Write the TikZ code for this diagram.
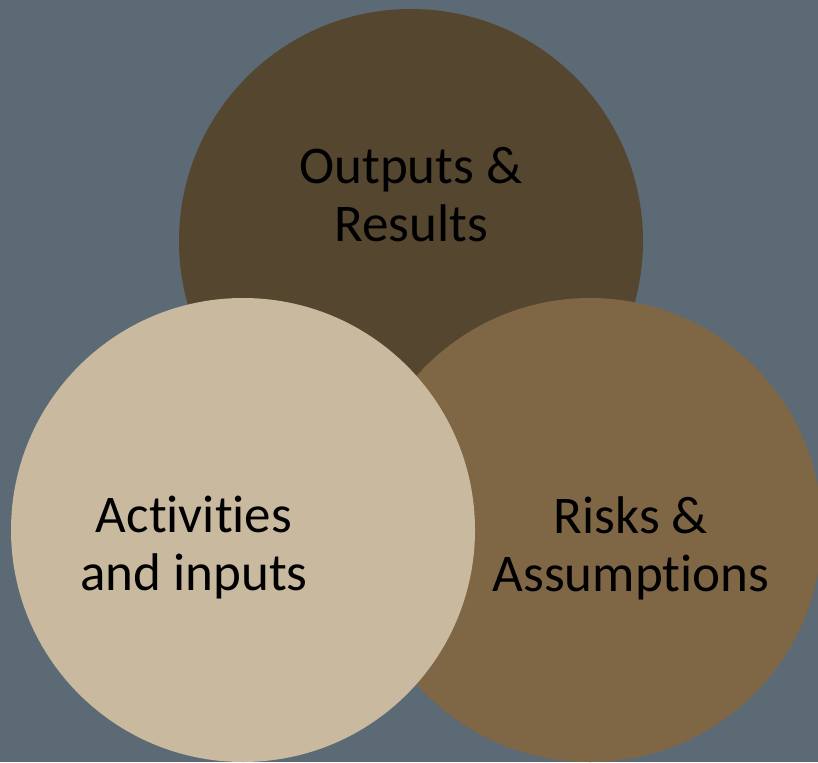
\documentclass[tikz,border=0pt]{standalone}
\usepackage{fontspec}
\setmainfont{Carlito}[Ligatures={NoCommon}]
\definecolor{bg}{HTML}{5B6A75}
\definecolor{topc}{HTML}{54462F}
\definecolor{rightc}{HTML}{7F6745}
\definecolor{leftc}{HTML}{C9B99E}
\tikzset{
  circ/.style={circle, minimum size=464pt, inner sep=0pt, draw=none},
  lbl/.style={align=center, font=\fontsize{53}{58}\selectfont, text=black, inner sep=0pt}
}
\begin{document}
\begin{tikzpicture}[x=1pt,y=1pt]
\path[fill=bg] (0,0) rectangle (818,-762);
\useasboundingbox (0,0) rectangle (818,-762);
\begin{scope}
\clip (0,0) rectangle (818,-762);
\node[circ, fill=topc] (top) at (411,-241) {};
\node[circ, fill=rightc] (right) at (590,-530) {};
\node[circ, fill=leftc] (left) at (243,-530) {};
\end{scope}
\node[lbl] (tt) at (411,-195) {Outputs \&\\Results};
\node[lbl] (lt) at (194,-548) {Activities\\and inputs};
\node[lbl] (rt) at (631,-548) {Risks \&\\Assumptions};
\end{tikzpicture}
\end{document}
